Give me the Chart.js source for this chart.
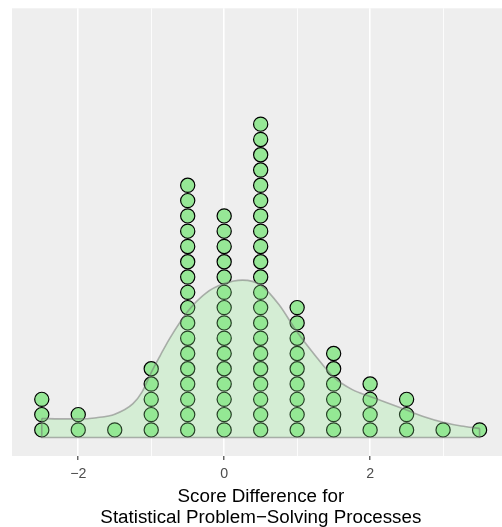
<!DOCTYPE html>
<html>
<head>
<meta charset="utf-8">
<script src="https://cdn.jsdelivr.net/npm/chart.js@4/dist/chart.umd.min.js"></script>
<style>
  html, body { margin: 0; padding: 0; background: #ffffff; overflow: hidden; }
  canvas { display: block; }
</style>
</head>
<body>
<canvas id="c" width="518" height="527" style="width:518px;height:527px"></canvas>
<script>
// ---- Data ----
const binCenters = [-2.5, -2, -1.5, -1, -0.5, 0, 0.5, 1, 1.5, 2, 2.5, 3, 3.5];
const binCounts  = [3, 2, 1, 5, 17, 15, 21, 9, 6, 4, 3, 1, 1];

const densityX = [-2.5, -2.25, -2, -1.75, -1.5, -1.25, -1.125, -1, -0.875, -0.75, -0.5, -0.25, 0, 0.25, 0.5, 0.75, 1, 1.25, 1.5, 1.75, 2, 2.25, 2.5, 2.75, 3, 3.25, 3.5];
const densityY = [1.25, 1.22, 1.22, 1.3, 1.53, 2.22, 2.99, 4.25, 5.38, 6.46, 8.25, 9.45, 10.07, 10.3, 9.98, 8.7, 6.9, 5.35, 3.95, 3.15, 2.68, 2.25, 1.8, 1.35, 1.0, 0.75, 0.6];

const xTickValues = [-2, -1, 0, 1, 2, 3];
const xLabeledTicks = [-2, 0, 2];
const xTitle = ['Score Difference for', 'Statistical Problem\u2212Solving Processes'];

// ---- Build datasets ----
const dotPoints = [];
binCenters.forEach((x, i) => {
  for (let k = 0; k < binCounts[i]; k++) dotPoints.push({ x: x, y: k + 0.5 });
});
const densityPoints = densityX.map((x, i) => ({ x: x, y: densityY[i] }));
const densityEdges = [
  { x: densityX[0], y: densityY[0] },
  { x: densityX[0], y: 0 },
  { x: densityX[densityX.length - 1], y: 0 },
  { x: densityX[densityX.length - 1], y: densityY[densityY.length - 1] }
];

const panelBg = {
  id: 'panelBg',
  beforeDraw(chart) {
    const { ctx, chartArea: a } = chart;
    ctx.save();
    ctx.fillStyle = '#EEEEEE';
    ctx.fillRect(a.left, a.top, a.right - a.left, a.bottom - a.top);
    ctx.restore();
  }
};

new Chart(document.getElementById('c'), {
  type: 'scatter',
  data: {
    datasets: [
      {
        data: dotPoints,
        order: 3,
        pointRadius: 7.1,
        pointBorderWidth: 1.2,
        pointBackgroundColor: '#96E796',
        pointBorderColor: '#000000',
        showLine: false
      },
      {
        type: 'line',
        data: densityPoints,
        order: 2,
        pointRadius: 0,
        borderColor: 'rgba(110,110,110,0.5)',
        borderWidth: 1.6,
        backgroundColor: 'rgba(144,238,144,0.27)',
        fill: 'origin',
        cubicInterpolationMode: 'monotone'
      },
      {
        type: 'line',
        data: densityEdges,
        order: 1,
        pointRadius: 0,
        borderColor: 'rgba(110,110,110,0.5)',
        borderWidth: 1.6,
        fill: false,
        tension: 0
      }
    ]
  },
  options: {
    responsive: false,
    animation: false,
    devicePixelRatio: 1,
    layout: { padding: { left: 12, top: 7, right: 2, bottom: 0 } },
    plugins: { legend: { display: false }, tooltip: { enabled: false } },
    scales: {
      x: {
        type: 'linear',
        min: -2.908,
        max: 3.913,
        afterBuildTicks: s => { s.ticks = xTickValues.map(v => ({ value: v })); },
        afterFit: s => { s.height = 71; },
        border: { display: false },
        grid: {
          color: '#FFFFFF',
          lineWidth: ctx => (xLabeledTicks.includes(ctx.tick && ctx.tick.value) ? 1.6 : 0.8),
          tickColor: ctx => (xLabeledTicks.includes(ctx.tick && ctx.tick.value) ? '#333333' : 'rgba(0,0,0,0)'),
          tickWidth: 1.1,
          tickLength: 4,
          drawTicks: true
        },
        ticks: {
          autoSkip: false,
          maxRotation: 0,
          padding: 5.5,
          color: '#4D4D4D',
          font: { family: 'Liberation Sans', size: 14.2 },
          callback: v => (xLabeledTicks.includes(v) ? (v < 0 ? '\u2212' + Math.abs(v) : String(v)) : '')
        },
        title: {
          display: true,
          text: xTitle,
          color: '#000000',
          font: { family: 'Liberation Sans', size: 18.8, lineHeight: 1.117 },
          padding: { top: 0, bottom: -1 }
        }
      },
      y: {
        type: 'linear',
        display: false,
        min: -1.207,
        max: 28.08
      }
    }
  },
  plugins: [panelBg]
});
</script>
</body>
</html>
